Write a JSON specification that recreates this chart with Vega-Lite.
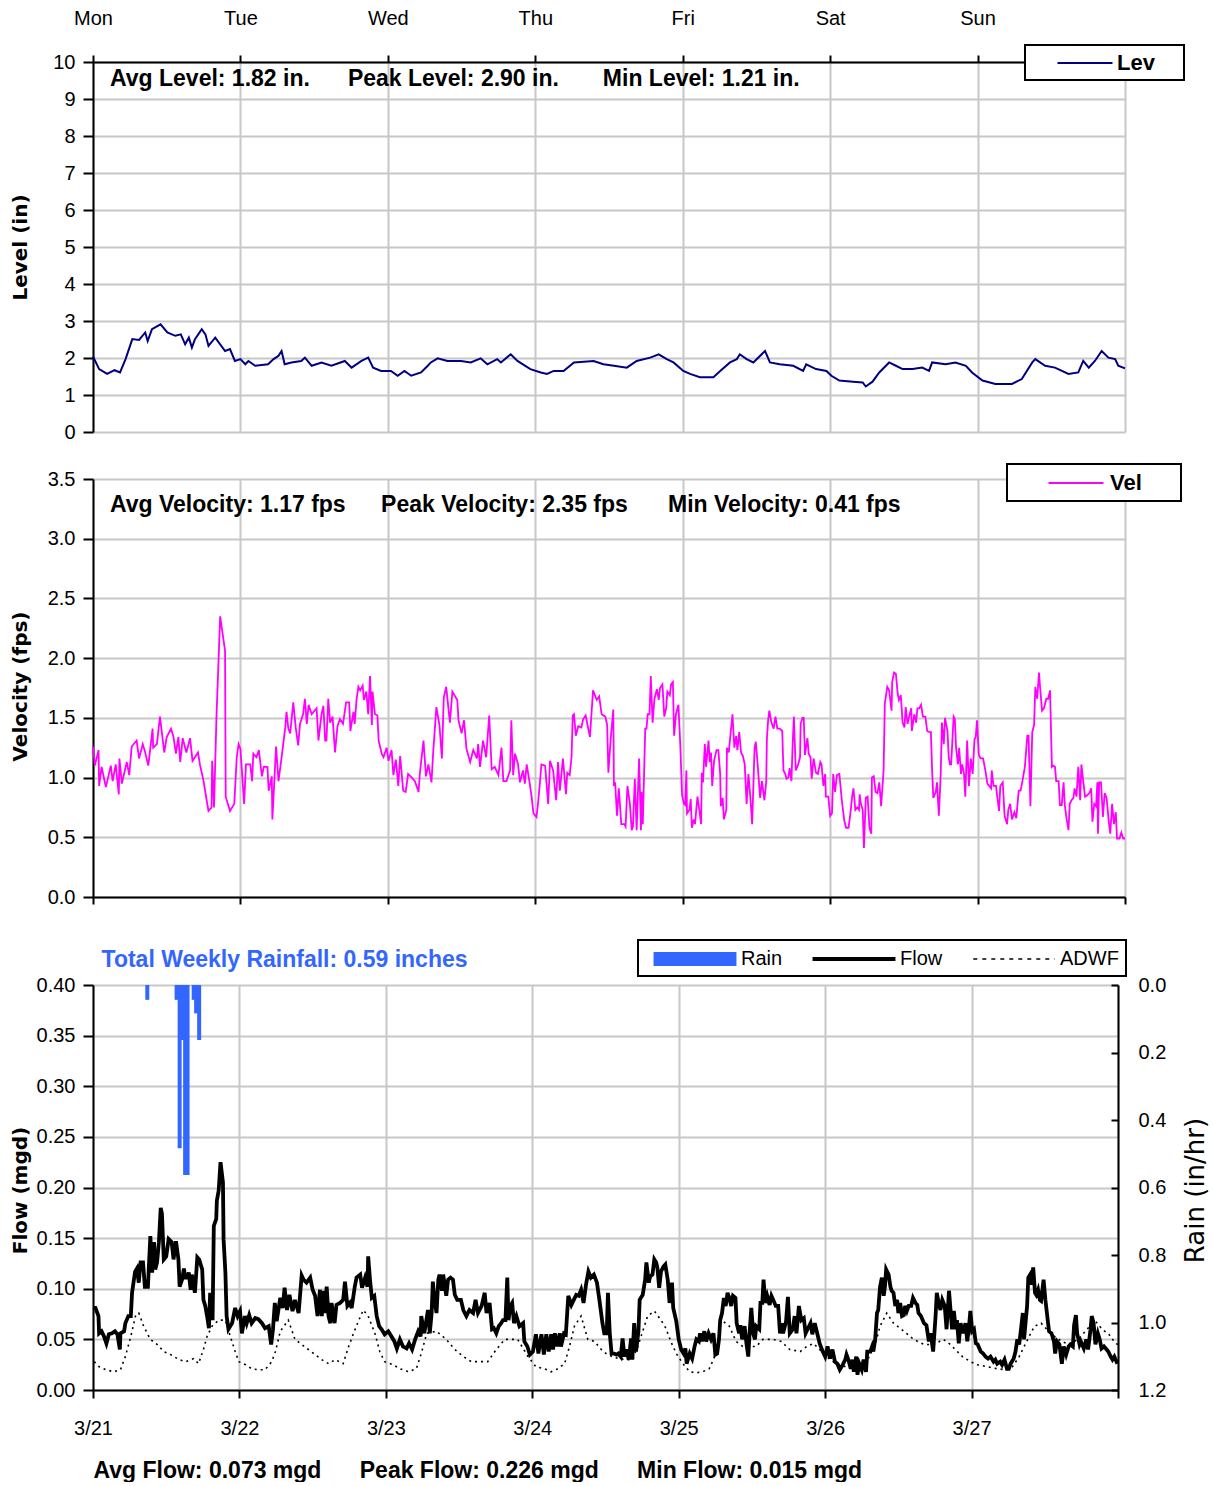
{
"$schema": "https://vega.github.io/schema/vega-lite/v6.json",
"padding": {"left": 10, "top": 8, "right": 5, "bottom": 0},
"background": "white",
"spacing": 21,
"config": {
  "font": "Liberation Sans",
  "view": {"stroke": null},
  "axis": {"labelFont": "Liberation Sans", "labelFontSize": 20, "labelColor": "black", "titleFont": "DejaVu Sans", "titleFontSize": 20, "titleFontWeight": "bold", "titleColor": "black", "domainColor": "black", "domainWidth": 2, "tickColor": "black", "tickWidth": 2, "gridColor": "#c8c8c8", "gridWidth": 2, "labelFlush": false, "labelOverlap": false}
},
"resolve": {"scale": {"x": "independent", "y": "independent", "color": "independent"}, "legend": {"color": "independent"}},
"datasets": {
"lev": [{"h":0,"v":2.04},{"h":1,"v":1.70},{"h":2.3,"v":1.57},{"h":3.5,"v":1.67},{"h":4.4,"v":1.61},{"h":5.3,"v":1.97},{"h":6.4,"v":2.51},{"h":7.5,"v":2.49},{"h":8.5,"v":2.69},{"h":8.9,"v":2.46},{"h":9.6,"v":2.78},{"h":11,"v":2.91},{"h":12.1,"v":2.69},{"h":13.4,"v":2.60},{"h":14.3,"v":2.64},{"h":15,"v":2.37},{"h":15.6,"v":2.55},{"h":16.1,"v":2.28},{"h":16.6,"v":2.51},{"h":17.7,"v":2.78},{"h":18.3,"v":2.64},{"h":18.8,"v":2.33},{"h":19.9,"v":2.55},{"h":21.5,"v":2.19},{"h":22.3,"v":2.24},{"h":23.1,"v":1.92},{"h":24,"v":1.97},{"h":24.8,"v":1.83},{"h":25.3,"v":1.92},{"h":26.4,"v":1.79},{"h":28.5,"v":1.83},{"h":29.4,"v":1.97},{"h":30.2,"v":2.06},{"h":30.7,"v":2.19},{"h":31.2,"v":1.83},{"h":32.3,"v":1.88},{"h":33.9,"v":1.92},{"h":34.5,"v":2.01},{"h":35.6,"v":1.79},{"h":37.2,"v":1.88},{"h":38.8,"v":1.79},{"h":41,"v":1.92},{"h":42.1,"v":1.74},{"h":43.7,"v":1.92},{"h":44.8,"v":2.01},{"h":45.6,"v":1.74},{"h":46.9,"v":1.65},{"h":48.5,"v":1.65},{"h":49.6,"v":1.52},{"h":50.7,"v":1.65},{"h":51.8,"v":1.52},{"h":53.4,"v":1.61},{"h":54.5,"v":1.79},{"h":55,"v":1.88},{"h":56.1,"v":1.99},{"h":57.7,"v":1.92},{"h":59.9,"v":1.92},{"h":61.5,"v":1.88},{"h":63.1,"v":1.99},{"h":64.2,"v":1.83},{"h":65.8,"v":1.97},{"h":66.4,"v":1.88},{"h":68,"v":2.10},{"h":69.1,"v":1.92},{"h":71.2,"v":1.70},{"h":72.9,"v":1.61},{"h":73.9,"v":1.57},{"h":75,"v":1.65},{"h":76.6,"v":1.65},{"h":78.3,"v":1.88},{"h":81.5,"v":1.92},{"h":83.1,"v":1.83},{"h":84.8,"v":1.79},{"h":86.9,"v":1.74},{"h":88.5,"v":1.92},{"h":90.7,"v":2.01},{"h":92.1,"v":2.10},{"h":93.4,"v":1.97},{"h":94.5,"v":1.88},{"h":96.1,"v":1.65},{"h":97.2,"v":1.57},{"h":98.8,"v":1.48},{"h":101,"v":1.48},{"h":102.1,"v":1.65},{"h":103.7,"v":1.88},{"h":104.8,"v":1.97},{"h":105.3,"v":2.10},{"h":106.4,"v":1.97},{"h":107.5,"v":1.88},{"h":109.4,"v":2.19},{"h":110.2,"v":1.88},{"h":111.8,"v":1.83},{"h":114,"v":1.79},{"h":115.6,"v":1.65},{"h":116.1,"v":1.83},{"h":117.7,"v":1.70},{"h":119.4,"v":1.65},{"h":120.2,"v":1.52},{"h":121.5,"v":1.39},{"h":123.7,"v":1.36},{"h":125.3,"v":1.34},{"h":125.8,"v":1.23},{"h":126.9,"v":1.36},{"h":128,"v":1.61},{"h":129.6,"v":1.88},{"h":130.7,"v":1.79},{"h":131.8,"v":1.70},{"h":133.4,"v":1.70},{"h":135,"v":1.74},{"h":136.1,"v":1.65},{"h":136.6,"v":1.88},{"h":138.8,"v":1.83},{"h":140.4,"v":1.88},{"h":142.1,"v":1.79},{"h":143.1,"v":1.61},{"h":144.8,"v":1.39},{"h":146.9,"v":1.30},{"h":149.6,"v":1.30},{"h":151.2,"v":1.43},{"h":152.9,"v":1.88},{"h":153.4,"v":1.97},{"h":155,"v":1.79},{"h":156.6,"v":1.74},{"h":158.8,"v":1.57},{"h":160.4,"v":1.61},{"h":161.2,"v":1.92},{"h":162.1,"v":1.74},{"h":163.1,"v":1.92},{"h":164.2,"v":2.19},{"h":165.3,"v":2.01},{"h":166.4,"v":1.97},{"h":166.9,"v":1.79},{"h":168,"v":1.72}],
"vel": [{"h":0,"v":1.26},{"h":0.3,"v":1.10},{"h":0.9,"v":1.23},{"h":1.0,"v":0.93},{"h":1.4,"v":1.09},{"h":2.1,"v":0.92},{"h":2.9,"v":1.10},{"h":3.2,"v":0.97},{"h":3.7,"v":1.11},{"h":4.2,"v":0.86},{"h":4.3,"v":1.16},{"h":4.7,"v":0.95},{"h":5.5,"v":1.13},{"h":5.9,"v":1.02},{"h":6.3,"v":1.26},{"h":7.1,"v":1.31},{"h":7.5,"v":1.16},{"h":8.1,"v":1.28},{"h":8.5,"v":1.21},{"h":9.0,"v":1.10},{"h":9.7,"v":1.41},{"h":9.8,"v":1.25},{"h":10.4,"v":1.28},{"h":10.9,"v":1.51},{"h":11.6,"v":1.21},{"h":12.0,"v":1.34},{"h":12.7,"v":1.41},{"h":13.1,"v":1.34},{"h":13.5,"v":1.20},{"h":13.9,"v":1.34},{"h":14.2,"v":1.13},{"h":14.6,"v":1.33},{"h":15.2,"v":1.21},{"h":15.8,"v":1.33},{"h":16.2,"v":1.14},{"h":17.1,"v":1.21},{"h":17.4,"v":1.11},{"h":18.0,"v":0.97},{"h":18.5,"v":0.81},{"h":18.8,"v":0.72},{"h":19.3,"v":0.75},{"h":19.4,"v":1.14},{"h":19.7,"v":0.75},{"h":20.1,"v":1.51},{"h":20.7,"v":2.35},{"h":21.5,"v":2.06},{"h":21.6,"v":0.84},{"h":22.3,"v":0.72},{"h":23.0,"v":0.78},{"h":23.4,"v":1.17},{"h":23.7,"v":1.28},{"h":24.0,"v":1.24},{"h":24.6,"v":0.78},{"h":24.9,"v":1.11},{"h":25.6,"v":1.11},{"h":25.9,"v":0.97},{"h":26.1,"v":1.20},{"h":26.6,"v":1.17},{"h":27.0,"v":1.23},{"h":27.5,"v":1.01},{"h":27.8,"v":1.09},{"h":28.4,"v":1.09},{"h":28.6,"v":0.89},{"h":29.1,"v":1.01},{"h":29.2,"v":0.65},{"h":29.8,"v":1.26},{"h":30.2,"v":0.97},{"h":30.7,"v":1.17},{"h":31.3,"v":1.42},{"h":31.5,"v":1.55},{"h":31.8,"v":1.41},{"h":32.1,"v":1.37},{"h":32.6,"v":1.63},{"h":33.0,"v":1.42},{"h":33.4,"v":1.27},{"h":33.7,"v":1.45},{"h":34.2,"v":1.53},{"h":34.5,"v":1.66},{"h":34.8,"v":1.45},{"h":35.1,"v":1.61},{"h":35.6,"v":1.53},{"h":36.4,"v":1.58},{"h":36.7,"v":1.31},{"h":37.2,"v":1.53},{"h":37.5,"v":1.60},{"h":37.8,"v":1.31},{"h":38.0,"v":1.31},{"h":38.3,"v":1.66},{"h":38.6,"v":1.46},{"h":39.0,"v":1.51},{"h":39.4,"v":1.21},{"h":39.8,"v":1.43},{"h":40.2,"v":1.49},{"h":40.7,"v":1.45},{"h":41.2,"v":1.63},{"h":41.7,"v":1.63},{"h":41.9,"v":1.39},{"h":42.4,"v":1.55},{"h":42.6,"v":1.45},{"h":42.9,"v":1.65},{"h":43.2,"v":1.76},{"h":43.5,"v":1.73},{"h":43.9,"v":1.77},{"h":44.1,"v":1.65},{"h":44.5,"v":1.72},{"h":44.8,"v":1.53},{"h":45.1,"v":1.85},{"h":45.4,"v":1.44},{"h":45.5,"v":1.72},{"h":45.9,"v":1.53},{"h":46.3,"v":1.52},{"h":46.5,"v":1.31},{"h":47.0,"v":1.20},{"h":47.3,"v":1.17},{"h":47.8,"v":1.25},{"h":48.1,"v":1.14},{"h":48.6,"v":1.23},{"h":48.9,"v":1.02},{"h":49.3,"v":1.15},{"h":49.7,"v":0.93},{"h":50.0,"v":1.18},{"h":50.5,"v":0.89},{"h":50.9,"v":0.88},{"h":51.3,"v":1.03},{"h":51.9,"v":1.00},{"h":52.4,"v":0.97},{"h":53.0,"v":0.88},{"h":53.2,"v":1.03},{"h":53.8,"v":1.31},{"h":54.2,"v":1.01},{"h":54.6,"v":1.11},{"h":55.1,"v":0.96},{"h":55.4,"v":1.23},{"h":55.9,"v":1.59},{"h":56.4,"v":1.44},{"h":56.8,"v":1.16},{"h":57.1,"v":1.67},{"h":57.5,"v":1.76},{"h":58.1,"v":1.46},{"h":58.5,"v":1.72},{"h":59.3,"v":1.65},{"h":59.5,"v":1.48},{"h":60.0,"v":1.37},{"h":60.4,"v":1.48},{"h":60.8,"v":1.24},{"h":61.4,"v":1.13},{"h":61.9,"v":1.23},{"h":62.5,"v":1.16},{"h":62.7,"v":1.28},{"h":63.0,"v":1.09},{"h":63.5,"v":1.31},{"h":64.0,"v":1.17},{"h":64.5,"v":1.52},{"h":64.9,"v":1.07},{"h":65.4,"v":1.09},{"h":66.0,"v":1.02},{"h":66.5,"v":1.25},{"h":66.8,"v":0.97},{"h":67.3,"v":0.97},{"h":67.9,"v":1.06},{"h":68.1,"v":1.48},{"h":68.4,"v":1.02},{"h":68.7,"v":1.20},{"h":69.2,"v":1.11},{"h":69.5,"v":0.96},{"h":70.0,"v":1.06},{"h":70.3,"v":0.95},{"h":70.6,"v":1.11},{"h":71.1,"v":0.95},{"h":71.4,"v":0.84},{"h":71.7,"v":0.70},{"h":72.2,"v":0.67},{"h":72.5,"v":0.81},{"h":73.0,"v":1.11},{"h":73.6,"v":1.10},{"h":74.1,"v":0.78},{"h":74.4,"v":1.14},{"h":74.9,"v":1.06},{"h":75.4,"v":0.81},{"h":75.7,"v":1.13},{"h":76.0,"v":0.89},{"h":76.5,"v":1.16},{"h":77.0,"v":0.86},{"h":77.2,"v":1.04},{"h":77.6,"v":1.02},{"h":77.9,"v":1.17},{"h":78.1,"v":1.52},{"h":78.3,"v":1.53},{"h":78.6,"v":1.35},{"h":79.0,"v":1.43},{"h":79.5,"v":1.42},{"h":79.8,"v":1.49},{"h":80.2,"v":1.52},{"h":80.5,"v":1.44},{"h":80.9,"v":1.34},{"h":81.4,"v":1.73},{"h":82.0,"v":1.65},{"h":82.4,"v":1.68},{"h":82.8,"v":1.53},{"h":83.4,"v":1.51},{"h":83.7,"v":1.44},{"h":83.9,"v":1.04},{"h":84.3,"v":1.34},{"h":84.7,"v":1.57},{"h":84.8,"v":0.93},{"h":85.0,"v":0.96},{"h":85.3,"v":0.68},{"h":85.6,"v":0.91},{"h":86.0,"v":0.61},{"h":86.5,"v":0.61},{"h":86.7,"v":0.59},{"h":87.0,"v":0.93},{"h":87.4,"v":0.78},{"h":87.7,"v":0.56},{"h":87.9,"v":0.59},{"h":88.2,"v":0.99},{"h":88.5,"v":0.56},{"h":88.9,"v":1.16},{"h":89.2,"v":0.56},{"h":89.3,"v":0.88},{"h":89.5,"v":0.61},{"h":89.9,"v":1.41},{"h":90.1,"v":1.41},{"h":90.3,"v":1.53},{"h":90.6,"v":1.53},{"h":90.8,"v":1.85},{"h":91.1,"v":1.46},{"h":91.4,"v":1.66},{"h":91.8,"v":1.74},{"h":92.1,"v":1.65},{"h":92.3,"v":1.75},{"h":92.7,"v":1.78},{"h":93.0,"v":1.51},{"h":93.3,"v":1.58},{"h":93.5,"v":1.72},{"h":93.9,"v":1.69},{"h":94.1,"v":1.78},{"h":94.4,"v":1.80},{"h":94.6,"v":1.35},{"h":94.9,"v":1.53},{"h":95.3,"v":1.61},{"h":95.6,"v":1.28},{"h":95.9,"v":0.85},{"h":96.2,"v":0.78},{"h":96.4,"v":0.77},{"h":96.6,"v":1.06},{"h":96.7,"v":0.70},{"h":97.1,"v":0.73},{"h":97.3,"v":0.82},{"h":97.5,"v":0.58},{"h":97.8,"v":0.65},{"h":98.0,"v":0.61},{"h":98.4,"v":0.84},{"h":98.7,"v":0.73},{"h":99.0,"v":0.61},{"h":99.1,"v":1.04},{"h":99.3,"v":0.96},{"h":99.6,"v":1.28},{"h":99.8,"v":1.09},{"h":100.2,"v":1.31},{"h":100.4,"v":1.13},{"h":100.6,"v":1.21},{"h":100.8,"v":0.93},{"h":101.1,"v":1.14},{"h":101.5,"v":1.23},{"h":101.8,"v":1.23},{"h":102.1,"v":1.03},{"h":102.2,"v":0.76},{"h":102.5,"v":0.83},{"h":102.7,"v":0.65},{"h":103.1,"v":0.73},{"h":103.2,"v":1.25},{"h":103.5,"v":1.21},{"h":103.7,"v":1.32},{"h":104.1,"v":1.53},{"h":104.4,"v":1.25},{"h":104.7,"v":1.35},{"h":104.9,"v":1.23},{"h":105.2,"v":1.38},{"h":105.5,"v":1.21},{"h":105.8,"v":1.18},{"h":106.1,"v":1.11},{"h":106.4,"v":0.78},{"h":106.7,"v":1.03},{"h":107.0,"v":0.84},{"h":107.3,"v":0.61},{"h":107.7,"v":1.25},{"h":107.9,"v":1.30},{"h":108.2,"v":1.11},{"h":108.6,"v":0.83},{"h":108.9,"v":0.97},{"h":109.3,"v":0.81},{"h":109.6,"v":0.97},{"h":109.7,"v":1.32},{"h":109.9,"v":1.48},{"h":110.1,"v":1.56},{"h":110.4,"v":1.47},{"h":110.8,"v":1.41},{"h":111.1,"v":1.51},{"h":111.4,"v":1.41},{"h":111.8,"v":1.41},{"h":112.2,"v":1.39},{"h":112.4,"v":1.06},{"h":112.7,"v":1.03},{"h":112.9,"v":0.99},{"h":113.2,"v":1.00},{"h":113.4,"v":1.08},{"h":113.7,"v":0.97},{"h":113.9,"v":1.28},{"h":114.1,"v":1.51},{"h":114.4,"v":1.06},{"h":114.8,"v":1.11},{"h":115.1,"v":1.17},{"h":115.2,"v":1.45},{"h":115.5,"v":1.50},{"h":115.7,"v":1.50},{"h":115.9,"v":1.19},{"h":116.3,"v":1.33},{"h":116.5,"v":1.20},{"h":116.8,"v":1.17},{"h":117.0,"v":0.99},{"h":117.3,"v":1.16},{"h":117.7,"v":1.04},{"h":118.0,"v":1.03},{"h":118.4,"v":1.13},{"h":118.6,"v":1.11},{"h":118.9,"v":0.93},{"h":119.2,"v":1.03},{"h":119.3,"v":0.84},{"h":119.7,"v":0.84},{"h":120.0,"v":0.68},{"h":120.3,"v":0.70},{"h":120.5,"v":1.03},{"h":120.8,"v":0.88},{"h":121.1,"v":1.02},{"h":121.5,"v":1.03},{"h":121.9,"v":0.81},{"h":122.3,"v":0.64},{"h":122.6,"v":0.58},{"h":123.0,"v":0.58},{"h":123.3,"v":0.70},{"h":123.6,"v":0.85},{"h":123.8,"v":0.91},{"h":124.1,"v":0.73},{"h":124.4,"v":0.75},{"h":124.7,"v":0.73},{"h":124.8,"v":0.86},{"h":125.0,"v":0.78},{"h":125.3,"v":0.73},{"h":125.5,"v":0.41},{"h":125.8,"v":0.83},{"h":126.1,"v":0.84},{"h":126.4,"v":0.58},{"h":126.7,"v":0.53},{"h":126.8,"v":1.00},{"h":127.1,"v":1.01},{"h":127.4,"v":0.88},{"h":127.7,"v":0.87},{"h":128.0,"v":0.96},{"h":128.3,"v":0.76},{"h":128.7,"v":1.06},{"h":128.9,"v":1.62},{"h":129.3,"v":1.76},{"h":129.6,"v":1.73},{"h":130.0,"v":1.56},{"h":130.1,"v":1.80},{"h":130.4,"v":1.88},{"h":130.7,"v":1.87},{"h":131.0,"v":1.70},{"h":131.2,"v":1.65},{"h":131.5,"v":1.69},{"h":131.8,"v":1.46},{"h":132.1,"v":1.42},{"h":132.3,"v":1.59},{"h":132.6,"v":1.45},{"h":132.9,"v":1.52},{"h":133.2,"v":1.58},{"h":133.3,"v":1.39},{"h":133.7,"v":1.53},{"h":134.0,"v":1.46},{"h":134.2,"v":1.58},{"h":134.5,"v":1.58},{"h":134.8,"v":1.61},{"h":135.1,"v":1.51},{"h":135.5,"v":1.51},{"h":135.8,"v":1.39},{"h":136.2,"v":1.38},{"h":136.4,"v":1.38},{"h":136.6,"v":1.06},{"h":136.8,"v":0.83},{"h":137.2,"v":0.88},{"h":137.4,"v":0.96},{"h":137.7,"v":0.68},{"h":138.0,"v":1.03},{"h":138.2,"v":1.46},{"h":138.5,"v":1.28},{"h":138.7,"v":1.50},{"h":139.1,"v":1.39},{"h":139.3,"v":1.17},{"h":139.5,"v":1.11},{"h":139.7,"v":1.11},{"h":140.1,"v":1.51},{"h":140.3,"v":1.49},{"h":140.5,"v":1.25},{"h":140.8,"v":1.11},{"h":141.0,"v":1.25},{"h":141.3,"v":1.03},{"h":141.5,"v":1.11},{"h":141.8,"v":1.03},{"h":142.0,"v":0.84},{"h":142.3,"v":1.31},{"h":142.6,"v":0.93},{"h":142.9,"v":1.16},{"h":143.2,"v":1.03},{"h":143.5,"v":1.32},{"h":143.7,"v":1.34},{"h":143.9,"v":1.48},{"h":144.2,"v":1.19},{"h":144.5,"v":1.16},{"h":144.9,"v":1.16},{"h":145.3,"v":1.05},{"h":145.6,"v":0.95},{"h":145.9,"v":0.93},{"h":146.2,"v":0.91},{"h":146.3,"v":1.06},{"h":146.6,"v":0.93},{"h":147.0,"v":0.93},{"h":147.2,"v":0.84},{"h":147.5,"v":0.72},{"h":147.7,"v":0.93},{"h":148.1,"v":0.96},{"h":148.4,"v":0.68},{"h":148.8,"v":0.61},{"h":149.0,"v":0.73},{"h":149.3,"v":0.78},{"h":149.6,"v":0.65},{"h":150.0,"v":0.71},{"h":150.3,"v":0.66},{"h":150.7,"v":0.89},{"h":151.0,"v":0.89},{"h":151.3,"v":0.97},{"h":151.7,"v":1.09},{"h":152.1,"v":1.35},{"h":152.3,"v":1.35},{"h":152.6,"v":0.76},{"h":152.9,"v":1.38},{"h":153.2,"v":1.44},{"h":153.4,"v":1.76},{"h":153.7,"v":1.66},{"h":154.0,"v":1.88},{"h":154.2,"v":1.74},{"h":154.5,"v":1.56},{"h":154.8,"v":1.58},{"h":155.2,"v":1.66},{"h":155.5,"v":1.66},{"h":155.8,"v":1.73},{"h":156.1,"v":1.09},{"h":156.3,"v":1.10},{"h":156.6,"v":1.09},{"h":156.8,"v":0.97},{"h":157.2,"v":0.97},{"h":157.4,"v":0.77},{"h":157.7,"v":0.77},{"h":158.0,"v":0.96},{"h":158.2,"v":0.77},{"h":158.5,"v":0.65},{"h":158.8,"v":0.56},{"h":159.0,"v":0.78},{"h":159.3,"v":0.81},{"h":159.6,"v":0.83},{"h":159.8,"v":0.91},{"h":160.1,"v":0.84},{"h":160.4,"v":1.09},{"h":160.7,"v":0.81},{"h":160.9,"v":1.11},{"h":161.2,"v":0.97},{"h":161.5,"v":0.84},{"h":161.8,"v":0.85},{"h":162.2,"v":0.87},{"h":162.5,"v":0.91},{"h":162.7,"v":0.63},{"h":163.0,"v":0.78},{"h":163.3,"v":0.76},{"h":163.5,"v":0.96},{"h":163.6,"v":0.53},{"h":163.8,"v":0.96},{"h":164.1,"v":0.96},{"h":164.4,"v":0.67},{"h":164.7,"v":0.87},{"h":165.0,"v":0.83},{"h":165.4,"v":0.61},{"h":165.6,"v":0.53},{"h":165.9,"v":0.78},{"h":166.2,"v":0.61},{"h":166.5,"v":0.71},{"h":166.7,"v":0.49},{"h":167.1,"v":0.49},{"h":167.4,"v":0.54},{"h":167.7,"v":0.49},{"h":168,"v":0.49}],
"flow": [{"h":0,"v":0.081},{"h":0.4,"v":0.081},{"h":0.9,"v":0.073},{"h":1.0,"v":0.056},{"h":1.4,"v":0.058},{"h":1.8,"v":0.053},{"h":2.2,"v":0.046},{"h":2.6,"v":0.055},{"h":3.1,"v":0.056},{"h":3.6,"v":0.058},{"h":4.0,"v":0.055},{"h":4.4,"v":0.040},{"h":4.5,"v":0.056},{"h":5.1,"v":0.058},{"h":5.3,"v":0.066},{"h":5.8,"v":0.073},{"h":6.2,"v":0.073},{"h":6.4,"v":0.096},{"h":6.9,"v":0.117},{"h":7.2,"v":0.120},{"h":7.5,"v":0.106},{"h":7.8,"v":0.126},{"h":8.2,"v":0.126},{"h":8.5,"v":0.102},{"h":9.0,"v":0.102},{"h":9.4,"v":0.152},{"h":9.7,"v":0.116},{"h":10.0,"v":0.146},{"h":10.2,"v":0.119},{"h":10.5,"v":0.126},{"h":10.8,"v":0.146},{"h":11.1,"v":0.180},{"h":11.3,"v":0.174},{"h":11.6,"v":0.129},{"h":12.0,"v":0.132},{"h":12.4,"v":0.149},{"h":12.9,"v":0.146},{"h":13.2,"v":0.129},{"h":13.6,"v":0.147},{"h":14.0,"v":0.129},{"h":14.2,"v":0.102},{"h":14.6,"v":0.109},{"h":14.9,"v":0.120},{"h":15.1,"v":0.111},{"h":15.4,"v":0.111},{"h":15.7,"v":0.116},{"h":16.0,"v":0.099},{"h":16.2,"v":0.114},{"h":16.7,"v":0.096},{"h":17.1,"v":0.131},{"h":17.4,"v":0.129},{"h":17.9,"v":0.119},{"h":18.1,"v":0.089},{"h":18.4,"v":0.083},{"h":18.7,"v":0.073},{"h":19.0,"v":0.061},{"h":19.2,"v":0.096},{"h":19.6,"v":0.069},{"h":19.8,"v":0.162},{"h":20.2,"v":0.169},{"h":20.3,"v":0.187},{"h":20.6,"v":0.197},{"h":20.9,"v":0.225},{"h":21.0,"v":0.220},{"h":21.3,"v":0.205},{"h":21.4,"v":0.149},{"h":21.7,"v":0.116},{"h":21.9,"v":0.073},{"h":22.2,"v":0.060},{"h":22.8,"v":0.066},{"h":23.3,"v":0.081},{"h":23.7,"v":0.073},{"h":24.1,"v":0.078},{"h":24.4,"v":0.056},{"h":24.9,"v":0.073},{"h":25.2,"v":0.066},{"h":25.6,"v":0.074},{"h":26.0,"v":0.066},{"h":26.6,"v":0.071},{"h":27.1,"v":0.070},{"h":27.7,"v":0.066},{"h":28.2,"v":0.061},{"h":28.8,"v":0.063},{"h":29.2,"v":0.045},{"h":29.5,"v":0.060},{"h":29.8,"v":0.086},{"h":30.1,"v":0.068},{"h":30.7,"v":0.091},{"h":31.1,"v":0.081},{"h":31.4,"v":0.101},{"h":31.8,"v":0.079},{"h":32.2,"v":0.094},{"h":32.7,"v":0.078},{"h":33.1,"v":0.089},{"h":33.7,"v":0.076},{"h":34.2,"v":0.113},{"h":34.5,"v":0.109},{"h":35.0,"v":0.106},{"h":35.6,"v":0.111},{"h":36.0,"v":0.099},{"h":36.4,"v":0.093},{"h":36.8,"v":0.073},{"h":37.2,"v":0.099},{"h":37.5,"v":0.073},{"h":37.8,"v":0.098},{"h":38.0,"v":0.076},{"h":38.3,"v":0.102},{"h":38.6,"v":0.073},{"h":38.9,"v":0.066},{"h":39.1,"v":0.086},{"h":39.6,"v":0.066},{"h":39.9,"v":0.084},{"h":40.5,"v":0.086},{"h":41.0,"v":0.089},{"h":41.3,"v":0.107},{"h":41.7,"v":0.083},{"h":42.1,"v":0.086},{"h":42.4,"v":0.081},{"h":42.9,"v":0.102},{"h":43.2,"v":0.111},{"h":43.8,"v":0.114},{"h":44.1,"v":0.101},{"h":44.6,"v":0.111},{"h":45.0,"v":0.102},{"h":45.1,"v":0.132},{"h":45.4,"v":0.109},{"h":45.7,"v":0.091},{"h":46.1,"v":0.093},{"h":46.5,"v":0.073},{"h":46.9,"v":0.063},{"h":47.3,"v":0.060},{"h":47.8,"v":0.055},{"h":48.4,"v":0.058},{"h":48.9,"v":0.053},{"h":49.4,"v":0.048},{"h":49.8,"v":0.041},{"h":50.3,"v":0.050},{"h":50.8,"v":0.043},{"h":51.4,"v":0.041},{"h":51.8,"v":0.046},{"h":52.3,"v":0.040},{"h":52.8,"v":0.050},{"h":53.3,"v":0.058},{"h":53.7,"v":0.053},{"h":53.8,"v":0.073},{"h":54.3,"v":0.056},{"h":54.9,"v":0.079},{"h":55.2,"v":0.056},{"h":55.5,"v":0.076},{"h":55.7,"v":0.107},{"h":56.0,"v":0.088},{"h":56.3,"v":0.076},{"h":56.6,"v":0.109},{"h":56.8,"v":0.114},{"h":57.2,"v":0.098},{"h":57.4,"v":0.114},{"h":57.9,"v":0.093},{"h":58.2,"v":0.109},{"h":58.6,"v":0.111},{"h":59.0,"v":0.109},{"h":59.3,"v":0.094},{"h":59.7,"v":0.089},{"h":60.3,"v":0.089},{"h":60.7,"v":0.079},{"h":61.2,"v":0.073},{"h":61.7,"v":0.079},{"h":62.3,"v":0.076},{"h":62.7,"v":0.089},{"h":63.1,"v":0.076},{"h":63.7,"v":0.083},{"h":64.2,"v":0.096},{"h":64.5,"v":0.076},{"h":65.0,"v":0.086},{"h":65.4,"v":0.060},{"h":65.7,"v":0.061},{"h":66.1,"v":0.056},{"h":66.5,"v":0.063},{"h":66.9,"v":0.066},{"h":67.2,"v":0.069},{"h":67.6,"v":0.069},{"h":67.9,"v":0.111},{"h":68.1,"v":0.069},{"h":68.4,"v":0.083},{"h":68.7,"v":0.086},{"h":69.0,"v":0.066},{"h":69.4,"v":0.073},{"h":69.9,"v":0.063},{"h":70.5,"v":0.066},{"h":70.7,"v":0.048},{"h":71.2,"v":0.043},{"h":71.6,"v":0.035},{"h":72.1,"v":0.038},{"h":72.6,"v":0.055},{"h":73.0,"v":0.036},{"h":73.5,"v":0.055},{"h":73.9,"v":0.035},{"h":74.3,"v":0.055},{"h":74.7,"v":0.038},{"h":75.1,"v":0.055},{"h":75.4,"v":0.040},{"h":75.7,"v":0.056},{"h":76.1,"v":0.043},{"h":76.5,"v":0.056},{"h":76.7,"v":0.043},{"h":77.2,"v":0.056},{"h":77.5,"v":0.055},{"h":77.9,"v":0.093},{"h":78.4,"v":0.084},{"h":78.8,"v":0.089},{"h":79.2,"v":0.094},{"h":79.6,"v":0.093},{"h":80.0,"v":0.099},{"h":80.4,"v":0.086},{"h":80.8,"v":0.104},{"h":81.2,"v":0.117},{"h":81.6,"v":0.111},{"h":82.1,"v":0.114},{"h":82.6,"v":0.106},{"h":83.0,"v":0.089},{"h":83.5,"v":0.066},{"h":83.8,"v":0.056},{"h":84.2,"v":0.056},{"h":84.4,"v":0.096},{"h":84.7,"v":0.056},{"h":85.0,"v":0.036},{"h":85.4,"v":0.036},{"h":85.8,"v":0.035},{"h":86.1,"v":0.036},{"h":86.5,"v":0.033},{"h":86.8,"v":0.051},{"h":87.1,"v":0.033},{"h":87.4,"v":0.040},{"h":87.8,"v":0.030},{"h":88.2,"v":0.051},{"h":88.4,"v":0.030},{"h":88.7,"v":0.066},{"h":89.0,"v":0.038},{"h":89.4,"v":0.058},{"h":89.6,"v":0.089},{"h":90.1,"v":0.094},{"h":90.5,"v":0.109},{"h":90.7,"v":0.126},{"h":91.1,"v":0.106},{"h":91.3,"v":0.112},{"h":91.7,"v":0.114},{"h":92.0,"v":0.129},{"h":92.3,"v":0.126},{"h":92.5,"v":0.121},{"h":92.8,"v":0.101},{"h":93.1,"v":0.117},{"h":93.5,"v":0.122},{"h":93.8,"v":0.124},{"h":94.2,"v":0.109},{"h":94.5,"v":0.086},{"h":94.9,"v":0.106},{"h":95.1,"v":0.081},{"h":95.6,"v":0.068},{"h":96.0,"v":0.050},{"h":96.4,"v":0.040},{"h":96.8,"v":0.036},{"h":97.1,"v":0.041},{"h":97.3,"v":0.026},{"h":97.8,"v":0.036},{"h":98.2,"v":0.031},{"h":98.6,"v":0.043},{"h":98.9,"v":0.050},{"h":99.3,"v":0.048},{"h":99.5,"v":0.056},{"h":99.8,"v":0.048},{"h":100.2,"v":0.058},{"h":100.5,"v":0.048},{"h":100.9,"v":0.056},{"h":101.3,"v":0.050},{"h":101.7,"v":0.056},{"h":102.0,"v":0.035},{"h":102.3,"v":0.036},{"h":102.6,"v":0.050},{"h":102.8,"v":0.069},{"h":103.1,"v":0.076},{"h":103.4,"v":0.091},{"h":103.7,"v":0.083},{"h":104.0,"v":0.096},{"h":104.3,"v":0.091},{"h":104.6,"v":0.083},{"h":104.9,"v":0.093},{"h":105.3,"v":0.091},{"h":105.5,"v":0.066},{"h":105.9,"v":0.056},{"h":106.1,"v":0.064},{"h":106.4,"v":0.050},{"h":106.8,"v":0.063},{"h":107.1,"v":0.046},{"h":107.4,"v":0.033},{"h":107.6,"v":0.055},{"h":107.9,"v":0.081},{"h":108.2,"v":0.056},{"h":108.5,"v":0.050},{"h":108.7,"v":0.063},{"h":109.2,"v":0.060},{"h":109.4,"v":0.086},{"h":109.7,"v":0.086},{"h":109.9,"v":0.109},{"h":110.2,"v":0.086},{"h":110.5,"v":0.093},{"h":110.9,"v":0.084},{"h":111.2,"v":0.093},{"h":111.5,"v":0.089},{"h":111.9,"v":0.083},{"h":112.3,"v":0.083},{"h":112.6,"v":0.056},{"h":112.9,"v":0.066},{"h":113.1,"v":0.056},{"h":113.6,"v":0.068},{"h":113.9,"v":0.092},{"h":114.2,"v":0.056},{"h":114.7,"v":0.060},{"h":115.0,"v":0.073},{"h":115.3,"v":0.056},{"h":115.7,"v":0.083},{"h":116.1,"v":0.069},{"h":116.5,"v":0.071},{"h":116.8,"v":0.056},{"h":117.2,"v":0.061},{"h":117.6,"v":0.066},{"h":117.9,"v":0.055},{"h":118.3,"v":0.066},{"h":118.7,"v":0.056},{"h":119.1,"v":0.046},{"h":119.6,"v":0.038},{"h":120.0,"v":0.033},{"h":120.4,"v":0.043},{"h":120.8,"v":0.031},{"h":121.2,"v":0.040},{"h":121.6,"v":0.028},{"h":122.0,"v":0.026},{"h":122.4,"v":0.020},{"h":122.9,"v":0.025},{"h":123.3,"v":0.030},{"h":123.5,"v":0.035},{"h":123.8,"v":0.030},{"h":124.2,"v":0.021},{"h":124.5,"v":0.030},{"h":124.7,"v":0.018},{"h":125.1,"v":0.033},{"h":125.3,"v":0.015},{"h":125.6,"v":0.026},{"h":126.0,"v":0.020},{"h":126.3,"v":0.030},{"h":126.7,"v":0.018},{"h":126.9,"v":0.038},{"h":127.4,"v":0.038},{"h":127.7,"v":0.043},{"h":127.9,"v":0.038},{"h":128.2,"v":0.050},{"h":128.5,"v":0.076},{"h":128.7,"v":0.079},{"h":129.0,"v":0.102},{"h":129.3,"v":0.111},{"h":129.6,"v":0.093},{"h":129.8,"v":0.102},{"h":130.0,"v":0.119},{"h":130.4,"v":0.114},{"h":130.7,"v":0.102},{"h":130.9,"v":0.098},{"h":131.2,"v":0.096},{"h":131.5,"v":0.083},{"h":131.8,"v":0.089},{"h":132.0,"v":0.076},{"h":132.3,"v":0.086},{"h":132.6,"v":0.073},{"h":132.9,"v":0.074},{"h":133.1,"v":0.083},{"h":133.4,"v":0.078},{"h":133.7,"v":0.083},{"h":134.1,"v":0.083},{"h":134.4,"v":0.091},{"h":134.8,"v":0.086},{"h":135.1,"v":0.084},{"h":135.3,"v":0.076},{"h":135.7,"v":0.073},{"h":136.2,"v":0.066},{"h":136.6,"v":0.064},{"h":137.0,"v":0.048},{"h":137.3,"v":0.056},{"h":137.7,"v":0.038},{"h":138.1,"v":0.073},{"h":138.3,"v":0.096},{"h":138.6,"v":0.086},{"h":138.9,"v":0.079},{"h":139.2,"v":0.089},{"h":139.6,"v":0.083},{"h":139.9,"v":0.060},{"h":140.3,"v":0.098},{"h":140.5,"v":0.083},{"h":140.8,"v":0.060},{"h":141.1,"v":0.078},{"h":141.4,"v":0.060},{"h":141.6,"v":0.069},{"h":141.9,"v":0.046},{"h":142.2,"v":0.066},{"h":142.6,"v":0.056},{"h":143.0,"v":0.066},{"h":143.3,"v":0.048},{"h":143.6,"v":0.064},{"h":143.8,"v":0.078},{"h":144.1,"v":0.058},{"h":144.4,"v":0.060},{"h":144.7,"v":0.046},{"h":145.0,"v":0.045},{"h":145.5,"v":0.038},{"h":145.9,"v":0.036},{"h":146.3,"v":0.033},{"h":146.7,"v":0.031},{"h":147.1,"v":0.033},{"h":147.6,"v":0.028},{"h":147.9,"v":0.030},{"h":148.2,"v":0.026},{"h":148.7,"v":0.028},{"h":149.0,"v":0.025},{"h":149.4,"v":0.030},{"h":149.8,"v":0.021},{"h":150.1,"v":0.021},{"h":150.4,"v":0.026},{"h":150.9,"v":0.031},{"h":151.2,"v":0.038},{"h":151.5,"v":0.050},{"h":151.8,"v":0.045},{"h":152.1,"v":0.060},{"h":152.4,"v":0.076},{"h":152.6,"v":0.050},{"h":153.1,"v":0.083},{"h":153.3,"v":0.111},{"h":153.6,"v":0.114},{"h":153.8,"v":0.104},{"h":154.1,"v":0.121},{"h":154.4,"v":0.096},{"h":154.6,"v":0.094},{"h":154.9,"v":0.099},{"h":155.2,"v":0.089},{"h":155.4,"v":0.088},{"h":155.8,"v":0.109},{"h":156.1,"v":0.089},{"h":156.5,"v":0.068},{"h":156.7,"v":0.058},{"h":157.1,"v":0.056},{"h":157.5,"v":0.048},{"h":157.7,"v":0.036},{"h":158.0,"v":0.048},{"h":158.4,"v":0.045},{"h":158.8,"v":0.026},{"h":159.1,"v":0.043},{"h":159.5,"v":0.035},{"h":159.9,"v":0.043},{"h":160.2,"v":0.045},{"h":160.6,"v":0.043},{"h":160.8,"v":0.064},{"h":161.1,"v":0.074},{"h":161.3,"v":0.056},{"h":161.7,"v":0.045},{"h":161.9,"v":0.048},{"h":162.4,"v":0.041},{"h":162.8,"v":0.050},{"h":163.1,"v":0.040},{"h":163.5,"v":0.060},{"h":163.7,"v":0.073},{"h":164.0,"v":0.066},{"h":164.3,"v":0.045},{"h":164.7,"v":0.056},{"h":165.0,"v":0.050},{"h":165.3,"v":0.041},{"h":165.7,"v":0.043},{"h":166.0,"v":0.041},{"h":166.4,"v":0.038},{"h":166.8,"v":0.033},{"h":167.1,"v":0.030},{"h":167.4,"v":0.033},{"h":167.9,"v":0.026}],
"adwf": [{"h":0.2,"v":0.028},{"h":1.0,"v":0.023},{"h":2.1,"v":0.020},{"h":3.4,"v":0.018},{"h":4.5,"v":0.020},{"h":5.3,"v":0.033},{"h":6.2,"v":0.053},{"h":7.0,"v":0.074},{"h":7.5,"v":0.076},{"h":8.3,"v":0.063},{"h":9.4,"v":0.050},{"h":10.5,"v":0.045},{"h":11.6,"v":0.038},{"h":12.7,"v":0.035},{"h":14.1,"v":0.030},{"h":15.2,"v":0.028},{"h":16.5,"v":0.031},{"h":17.3,"v":0.026},{"h":18.1,"v":0.040},{"h":18.7,"v":0.053},{"h":19.5,"v":0.063},{"h":20.6,"v":0.069},{"h":21.7,"v":0.069},{"h":22.5,"v":0.053},{"h":23.3,"v":0.038},{"h":23.9,"v":0.028},{"h":25.0,"v":0.025},{"h":26.0,"v":0.021},{"h":27.1,"v":0.020},{"h":28.2,"v":0.020},{"h":29.3,"v":0.028},{"h":29.9,"v":0.038},{"h":30.7,"v":0.058},{"h":32.0,"v":0.069},{"h":33.1,"v":0.050},{"h":34.2,"v":0.045},{"h":35.3,"v":0.040},{"h":36.4,"v":0.035},{"h":37.5,"v":0.030},{"h":38.6,"v":0.026},{"h":39.7,"v":0.030},{"h":41.0,"v":0.026},{"h":41.9,"v":0.043},{"h":42.7,"v":0.056},{"h":43.5,"v":0.068},{"h":44.3,"v":0.079},{"h":45.1,"v":0.073},{"h":46.2,"v":0.056},{"h":47.0,"v":0.038},{"h":47.8,"v":0.028},{"h":49.2,"v":0.025},{"h":50.3,"v":0.021},{"h":51.7,"v":0.018},{"h":53.0,"v":0.021},{"h":53.8,"v":0.036},{"h":54.7,"v":0.056},{"h":56.3,"v":0.058},{"h":57.9,"v":0.050},{"h":59.3,"v":0.040},{"h":60.7,"v":0.033},{"h":62.0,"v":0.028},{"h":63.4,"v":0.028},{"h":64.7,"v":0.028},{"h":66.1,"v":0.040},{"h":67.5,"v":0.050},{"h":69.6,"v":0.050},{"h":71.3,"v":0.033},{"h":72.6,"v":0.023},{"h":74.0,"v":0.021},{"h":75.1,"v":0.018},{"h":76.2,"v":0.021},{"h":77.3,"v":0.026},{"h":78.1,"v":0.043},{"h":78.9,"v":0.063},{"h":80.0,"v":0.073},{"h":81.1,"v":0.050},{"h":82.2,"v":0.048},{"h":83.3,"v":0.040},{"h":84.1,"v":0.036},{"h":85.1,"v":0.033},{"h":86.2,"v":0.031},{"h":87.3,"v":0.030},{"h":88.4,"v":0.030},{"h":89.3,"v":0.043},{"h":90.1,"v":0.058},{"h":90.9,"v":0.073},{"h":92.0,"v":0.078},{"h":93.1,"v":0.069},{"h":93.9,"v":0.061},{"h":94.7,"v":0.048},{"h":95.6,"v":0.036},{"h":96.7,"v":0.026},{"h":97.8,"v":0.018},{"h":98.9,"v":0.017},{"h":99.9,"v":0.018},{"h":101.0,"v":0.021},{"h":101.9,"v":0.033},{"h":103.0,"v":0.069},{"h":104.3,"v":0.063},{"h":105.4,"v":0.048},{"h":106.5,"v":0.043},{"h":108.7,"v":0.043},{"h":109.8,"v":0.050},{"h":111.5,"v":0.050},{"h":112.8,"v":0.048},{"h":114.2,"v":0.040},{"h":115.9,"v":0.038},{"h":117.0,"v":0.043},{"h":118.1,"v":0.046},{"h":119.1,"v":0.040},{"h":120.2,"v":0.033},{"h":121.3,"v":0.028},{"h":122.4,"v":0.025},{"h":123.8,"v":0.022},{"h":125.2,"v":0.020},{"h":126.8,"v":0.028},{"h":128.2,"v":0.045},{"h":129.0,"v":0.063},{"h":130.1,"v":0.076},{"h":131.2,"v":0.066},{"h":132.9,"v":0.058},{"h":134.5,"v":0.050},{"h":136.2,"v":0.045},{"h":137.8,"v":0.045},{"h":139.4,"v":0.050},{"h":140.5,"v":0.045},{"h":142.5,"v":0.033},{"h":143.8,"v":0.028},{"h":144.9,"v":0.025},{"h":146.6,"v":0.023},{"h":148.2,"v":0.021},{"h":149.6,"v":0.020},{"h":150.7,"v":0.023},{"h":151.8,"v":0.033},{"h":153.2,"v":0.050},{"h":154.3,"v":0.063},{"h":155.4,"v":0.066},{"h":157.1,"v":0.055},{"h":158.8,"v":0.048},{"h":159.9,"v":0.045},{"h":161.5,"v":0.050},{"h":162.9,"v":0.060},{"h":164.3,"v":0.068},{"h":165.4,"v":0.060},{"h":166.5,"v":0.055},{"h":167.6,"v":0.046},{"h":168,"v":0.045}],
"rain": [{"h":8.9,"r":0.044},{"h":13.7,"r":0.044},{"h":14.2,"r":0.484},{"h":14.6,"r":0.163},{"h":15.1,"r":0.563},{"h":15.5,"r":0.563},{"h":16.5,"r":0.044},{"h":16.9,"r":0.084},{"h":17.4,"r":0.163}]
},
"vconcat": [
{
  "width": 1032, "height": 370,
  "layer": [
    {"data": {"name": "lev"},
     "mark": {"type": "line", "strokeWidth": 2},
     "encoding": {
       "x": {"field": "h", "type": "quantitative", "scale": {"domain": [0, 168], "nice": false, "zero": false},
             "axis": {"orient": "top", "values": [0,24,48,72,96,120,144,168], "labelExpr": "['Mon','Tue','Wed','Thu','Fri','Sat','Sun',''][round(datum.value/24)]", "title": null, "tickSize": 7, "labelPadding": 27, "grid": true}},
       "y": {"field": "v", "type": "quantitative", "scale": {"domain": [0, 10], "nice": false},
             "axis": {"values": [0,1,2,3,4,5,6,7,8,9,10], "tickCount": 20, "format": "d", "title": "Level (in)", "tickSize": 10, "labelPadding": 8, "grid": true, "titleX": -63, "titleY": 185, "titleBaseline": "bottom"}},
       "color": {"datum": "Lev", "scale": {"domain": ["Lev"], "range": ["#000080"]},
                 "legend": {"orient": "none", "legendX": 932, "legendY": -17, "title": null, "symbolType": "M-2.5,0H2.5", "symbolSize": 484, "symbolStrokeWidth": 2, "symbolOffset": 42, "labelOffset": 20, "labelFont": "Liberation Sans", "labelFontSize": 22, "labelFontWeight": "bold", "labelColor": "black", "padding": 6, "labelExpr": "datum.label + '\u00a0\u2800'",
                            "encode": {"legend": {"update": {"stroke": {"value": "black"}, "strokeWidth": {"value": 2}, "fill": {"value": "white"}}}, "symbols": {"update": {"fill": {"value": "transparent"}}}}}}
     }},
    {"data": {"values": [{}]}, "mark": {"type": "text", "align": "left", "baseline": "middle", "font": "Liberation Sans", "fontSize": 23, "fontWeight": "bold", "color": "black"},
     "encoding": {"x": {"datum": 2.77}, "y": {"datum": 9.54}, "text": {"value": "Avg Level: 1.82 in."}}},
    {"data": {"values": [{}]}, "mark": {"type": "text", "align": "left", "baseline": "middle", "font": "Liberation Sans", "fontSize": 23, "fontWeight": "bold", "color": "black"},
     "encoding": {"x": {"datum": 41.5}, "y": {"datum": 9.54}, "text": {"value": "Peak Level: 2.90 in."}}},
    {"data": {"values": [{}]}, "mark": {"type": "text", "align": "left", "baseline": "middle", "font": "Liberation Sans", "fontSize": 23, "fontWeight": "bold", "color": "black"},
     "encoding": {"x": {"datum": 83.0}, "y": {"datum": 9.54}, "text": {"value": "Min Level: 1.21 in."}}}
  ]
},
{
  "width": 1032, "height": 418,
  "layer": [
    {"data": {"name": "vel"},
     "mark": {"type": "line", "strokeWidth": 1.8},
     "encoding": {
       "x": {"field": "h", "type": "quantitative", "scale": {"domain": [0, 168], "nice": false, "zero": false},
             "axis": {"orient": "bottom", "values": [0,24,48,72,96,120,144,168], "labels": false, "title": null, "tickSize": 7, "grid": true, "minExtent": 21}},
       "y": {"field": "v", "type": "quantitative", "scale": {"domain": [0, 3.5], "nice": false},
             "axis": {"values": [0,0.5,1,1.5,2,2.5,3,3.5], "tickCount": 20, "format": ".1f", "title": "Velocity (fps)", "tickSize": 10, "labelPadding": 8, "grid": true, "titleX": -63, "titleY": 207, "titleBaseline": "bottom"}},
       "color": {"datum": "Vel", "scale": {"domain": ["Vel"], "range": ["#FF00FF"]},
                 "legend": {"orient": "none", "legendX": 914, "legendY": -15, "title": null, "symbolType": "M-2.5,0H2.5", "symbolSize": 484, "symbolStrokeWidth": 2, "symbolOffset": 50, "labelOffset": 22, "labelFont": "Liberation Sans", "labelFontSize": 22, "labelFontWeight": "bold", "labelColor": "black", "padding": 7, "labelExpr": "datum.label + '\u2800\u2800'",
                            "encode": {"legend": {"update": {"stroke": {"value": "black"}, "strokeWidth": {"value": 2}, "fill": {"value": "white"}}}, "symbols": {"update": {"fill": {"value": "transparent"}}}}}}
     }},
    {"data": {"values": [{}]}, "mark": {"type": "text", "align": "left", "baseline": "middle", "font": "Liberation Sans", "fontSize": 23, "fontWeight": "bold", "color": "black"},
     "encoding": {"x": {"datum": 2.77}, "y": {"datum": 3.28}, "text": {"value": "Avg Velocity: 1.17 fps"}}},
    {"data": {"values": [{}]}, "mark": {"type": "text", "align": "left", "baseline": "middle", "font": "Liberation Sans", "fontSize": 23, "fontWeight": "bold", "color": "black"},
     "encoding": {"x": {"datum": 46.9}, "y": {"datum": 3.28}, "text": {"value": "Peak Velocity: 2.35 fps"}}},
    {"data": {"values": [{}]}, "mark": {"type": "text", "align": "left", "baseline": "middle", "font": "Liberation Sans", "fontSize": 23, "fontWeight": "bold", "color": "black"},
     "encoding": {"x": {"datum": 93.6}, "y": {"datum": 3.28}, "text": {"value": "Min Velocity: 0.41 fps"}}}
  ]
},
{
  "width": 1025, "height": 405,
  "resolve": {"scale": {"y": "independent"}},
  "layer": [
    {"data": {"name": "rain"},
     "mark": {"type": "bar", "width": 4},
     "encoding": {
       "x": {"field": "h", "type": "quantitative", "scale": {"domain": [0, 168], "nice": false, "zero": false, "padding": 0},
             "axis": {"orient": "bottom", "values": [0,24,48,72,96,120,144,168], "labelExpr": "['3/21','3/22','3/23','3/24','3/25','3/26','3/27',''][round(datum.value/24)]", "tickSize": 8, "labelPadding": 20, "grid": true,
                      "title": "Avg Flow: 0.073 mgd\u00a0\u00a0\u00a0\u00a0\u00a0\u00a0Peak Flow: 0.226 mgd\u00a0\u00a0\u00a0\u00a0\u00a0\u00a0Min Flow: 0.015 mgd", "titleFont": "Liberation Sans", "titleFontSize": 23, "titleAnchor": "start", "titleAlign": "left", "titlePadding": 21}},
       "y": {"field": "r", "type": "quantitative", "scale": {"domain": [0, 1.2], "reverse": true, "nice": false},
             "axis": {"orient": "right", "values": [0,0.2,0.4,0.6,0.8,1.0,1.2], "tickCount": 20, "format": ".1f", "grid": false, "tickSize": -7, "labelPadding": 27, "title": "Rain (in/hr)", "titleFont": "DejaVu Sans", "titleFontWeight": "normal", "titleFontSize": 26, "titleAngle": 270, "titleX": 90, "titleY": 205, "titleBaseline": "bottom"}},
       "color": {"datum": "Rain", "scale": {"domain": ["Rain", "Flow", "ADWF"], "range": ["#3366FF", "black", "black"]},
                 "legend": {"orient": "none", "legendX": 545, "legendY": -45, "title": null, "direction": "horizontal", "columns": 3, "symbolType": "M-3.7,0H3.7", "symbolSize": 484, "symbolStrokeWidth": 1.5, "symbolOffset": 38, "labelOffset": 34, "columnPadding": 21, "labelFont": "Liberation Sans", "labelFontSize": 20, "labelColor": "black", "padding": 7,
                            "encode": {"legend": {"update": {"stroke": {"value": "black"}, "strokeWidth": {"value": 2}, "fill": {"value": "white"}}},
                                       "symbols": {"update": {
                                          "shape": {"signal": "datum.value === 'ADWF' ? 'M-3.7,0H3.7' : datum.value === 'Rain' ? 'M-3.7,-0.57H3.7V0.57H-3.7Z' : 'M-3.7,-0.11H3.7V0.11H-3.7Z'"},
                                          "fill": {"signal": "datum.value === 'Rain' ? '#3366FF' : datum.value === 'Flow' ? 'black' : 'transparent'"},
                                          "stroke": {"signal": "datum.value === 'Rain' ? '#3366FF' : 'black'"},
                                          "strokeDash": {"signal": "datum.value === 'ADWF' ? [4,5] : [1,0]"},
                                          "opacity": {"value": 1}}}}}}
     }},
    {"layer": [
      {"data": {"name": "adwf"},
       "mark": {"type": "line", "strokeWidth": 1.6, "strokeDash": [2, 4]},
       "encoding": {
         "x": {"field": "h", "type": "quantitative"},
         "y": {"field": "v", "type": "quantitative", "scale": {"domain": [0, 0.4], "nice": false},
               "axis": {"orient": "left", "values": [0,0.05,0.1,0.15,0.2,0.25,0.3,0.35,0.4], "tickCount": 20, "format": ".2f", "title": "Flow (mgd)", "tickSize": 10, "labelPadding": 8, "grid": true, "titleX": -63, "titleY": 205, "titleBaseline": "bottom"}},
         "color": {"datum": "ADWF"}
       }},
      {"data": {"name": "flow"},
       "mark": {"type": "line", "strokeWidth": 3.8},
       "encoding": {
         "x": {"field": "h", "type": "quantitative"},
         "y": {"field": "v", "type": "quantitative"},
         "color": {"datum": "Flow"}
       }},
      {"data": {"values": [{}]}, "mark": {"type": "text", "align": "left", "baseline": "middle", "font": "Liberation Sans", "fontSize": 23, "fontWeight": "bold", "color": "#3366FF"},
       "encoding": {"x": {"datum": 1.4}, "y": {"datum": 0.425}, "text": {"value": "Total Weekly Rainfall: 0.59 inches"}}}
    ]}
  ]
}
]
}
